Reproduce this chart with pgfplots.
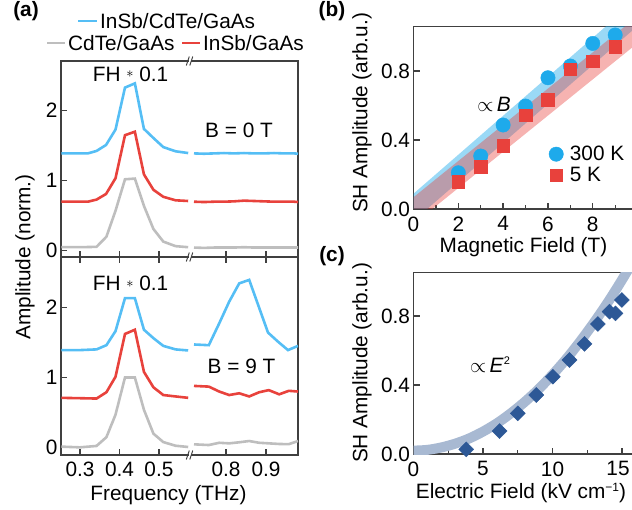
\documentclass[border=0pt]{standalone}
\usepackage{fontspec}
\setmainfont{Liberation Sans}
\usepackage{pgfplots}
\pgfplotsset{compat=1.18}

\definecolor{ablue}{RGB}{85,190,245}
\definecolor{ared}{RGB}{232,66,60}
\definecolor{agray}{RGB}{190,190,190}
\definecolor{bblue}{RGB}{30,170,235}
\definecolor{bred}{RGB}{232,65,60}
\definecolor{cdiam}{RGB}{45,88,150}
\definecolor{cband}{RGB}{168,185,210}
\definecolor{frame}{RGB}{64,64,64}

\newcommand\fs{\fontsize{20.8}{25}\selectfont}

\pgfplotsset{
  base/.style={
    scale only axis, anchor=south west, clip=true,
    axis line style={line width=1.5pt, draw=frame},
    tick style={line width=1.3pt, draw=frame},
    major tick length=6pt, minor tick length=4pt, tick align=inside,
    /pgf/number format/assume math mode=true,
    tick label style={font=\fs},
  },
  spec/.style={line width=2.6pt, no marks},
}

\begin{document}
\begin{tikzpicture}[x=1pt, y=1pt, font=\fs]
\useasboundingbox (0,0) rectangle (632,509);

% ---------- (a) B = 0 T ----------
\begin{axis}[base, at={(61pt,252pt)}, width=129pt, height=196pt,
  xmin=0.252, xmax=0.5786, ymin=-0.09, ymax=2.71,
  xtick={0.3,0.4,0.5}, xticklabels={}, xtick pos=left,
  ytick={0,1,2}, ytick pos=left]
\addplot[spec, agray] coordinates {(0.253,0.05) (0.30,0.05) (0.342,0.055) (0.367,0.20) (0.390,0.57) (0.414,1.02) (0.439,1.03) (0.462,0.64) (0.486,0.31) (0.511,0.13) (0.542,0.065) (0.574,0.05)};
\addplot[spec, ared] coordinates {(0.253,0.70) (0.32,0.70) (0.342,0.73) (0.366,0.81) (0.390,1.035) (0.414,1.65) (0.439,1.70) (0.462,1.09) (0.486,0.87) (0.511,0.77) (0.542,0.72) (0.574,0.71)};
\addplot[spec, ablue] coordinates {(0.253,1.39) (0.32,1.39) (0.342,1.425) (0.366,1.51) (0.390,1.73) (0.414,2.33) (0.439,2.39) (0.462,1.74) (0.486,1.61) (0.511,1.48) (0.542,1.42) (0.574,1.395)};
\end{axis}

\begin{axis}[base, at={(190pt,252pt)}, width=108pt, height=196pt,
  xmin=0.71, xmax=0.98, ymin=-0.09, ymax=2.71,
  xtick={0.8,0.9}, xticklabels={}, xtick pos=left, ytick=\empty]
\addplot[spec, agray] coordinates {(0.72,0.045) (0.745,0.04) (0.77,0.045) (0.795,0.045) (0.82,0.045) (0.845,0.05) (0.87,0.045) (0.895,0.045) (0.92,0.045) (0.945,0.045) (0.97,0.045) (0.98,0.045)};
\addplot[spec, ared] coordinates {(0.72,0.70) (0.745,0.695) (0.77,0.70) (0.795,0.70) (0.82,0.705) (0.845,0.715) (0.87,0.71) (0.895,0.705) (0.92,0.70) (0.945,0.70) (0.97,0.70) (0.98,0.695)};
\addplot[spec, ablue] coordinates {(0.72,1.39) (0.745,1.385) (0.77,1.39) (0.795,1.395) (0.82,1.39) (0.845,1.395) (0.87,1.39) (0.895,1.39) (0.92,1.395) (0.945,1.39) (0.97,1.39) (0.98,1.385)};
\end{axis}

% ---------- (a) B = 9 T ----------
\begin{axis}[base, at={(61pt,54pt)}, width=129pt, height=198pt,
  xmin=0.252, xmax=0.5786, ymin=-0.104, ymax=2.716,
  xtick={0.3,0.4,0.5}, xtick pos=both, xticklabel pos=left,
  xticklabel style={yshift=-3pt},
  ytick={0,1,2}, ytick pos=left]
\addplot[spec, agray] coordinates {(0.253,0.015) (0.30,0.005) (0.342,0.025) (0.367,0.15) (0.390,0.47) (0.414,1.0) (0.439,1.0) (0.462,0.54) (0.486,0.2) (0.511,0.08) (0.542,0.028) (0.574,0.01)};
\addplot[spec, ared] coordinates {(0.253,0.71) (0.30,0.705) (0.342,0.70) (0.367,0.79) (0.390,1.01) (0.414,1.62) (0.439,1.68) (0.462,1.08) (0.486,0.86) (0.511,0.75) (0.542,0.73) (0.574,0.71)};
\addplot[spec, ablue] coordinates {(0.253,1.39) (0.30,1.39) (0.342,1.40) (0.367,1.46) (0.390,1.66) (0.414,2.13) (0.439,2.13) (0.462,1.68) (0.486,1.56) (0.511,1.45) (0.542,1.40) (0.574,1.385)};
\end{axis}

\begin{axis}[base, at={(190pt,54pt)}, width=108pt, height=198pt,
  xmin=0.71, xmax=0.98, ymin=-0.104, ymax=2.716,
  xtick={0.8,0.9}, xtick pos=both, xticklabel pos=left,
  xticklabel style={yshift=-3pt}, ytick=\empty]
\addplot[spec, agray] coordinates {(0.72,0.048) (0.757,0.038) (0.783,0.07) (0.808,0.062) (0.833,0.077) (0.858,0.095) (0.883,0.07) (0.907,0.062) (0.933,0.053) (0.957,0.05) (0.98,0.095)};
\addplot[spec, ared] coordinates {(0.72,0.88) (0.757,0.87) (0.783,0.80) (0.808,0.75) (0.833,0.775) (0.858,0.73) (0.883,0.79) (0.907,0.82) (0.933,0.76) (0.957,0.81) (0.98,0.80)};
\addplot[spec, ablue] coordinates {(0.72,1.47) (0.757,1.46) (0.783,1.77) (0.808,2.08) (0.833,2.34) (0.858,2.39) (0.905,1.64) (0.93,1.51) (0.955,1.39) (0.98,1.45)};
\end{axis}

% axis break
\fill[white] (188.6,52) rectangle (191.4,450);
\foreach \y in {448,252,54} {
  \draw[line width=0.9pt, frame] (186.3,\y-4.5) -- (189.3,\y+4.5) (189.8,\y-4.5) -- (192.8,\y+4.5);
}

% legend and labels of (a)
\draw[ablue, line width=2.6pt] (78,488) -- (97,488);
\node[anchor=west, inner sep=0pt] at (100,488) {InSb/CdTe/GaAs};
\draw[agray, line width=2.6pt] (47,466) -- (65,466);
\node[anchor=west, inner sep=0pt] at (68,466) {CdTe/GaAs};
\draw[ared, line width=2.6pt] (182,466) -- (200,466);
\node[anchor=west, inner sep=0pt] at (203,466) {InSb/GaAs};
\node at (130.5,435) {FH \raisebox{3.6pt}{\fontsize{14}{14}\selectfont$\ast$} 0.1};
\node at (130.5,225.5) {FH \raisebox{3.6pt}{\fontsize{14}{14}\selectfont$\ast$} 0.1};
\node at (239,379) {B = 0 T};
\node at (241.5,143) {B = 9 T};
\node[rotate=90] at (25,252) {Amplitude (norm.)};
\node[anchor=base] at (168.5,9) {Frequency (THz)};
\node[font=\fs\bfseries] at (26,498) {(a)};

% ---------- (b) ----------
\begin{axis}[base, at={(413.5pt,300pt)}, width=220.5pt, height=182.3pt,
  xmin=0, xmax=9.84, ymin=0, ymax=1.057,
  xtick={0,2,4,6,8}, minor xtick={1,3,5,7,9}, xtick pos=left,
  xticklabel style={yshift=-4pt},
  ytick={0,0.4,0.8}, ytick pos=left,
  yticklabel style={/pgf/number format/fixed, /pgf/number format/fixed zerofill, /pgf/number format/precision=1},
  legend style={draw=none, fill=none, at={(0.6,0.365)}, anchor=north west, font=\fs, row sep=2pt,
    nodes={inner sep=1.5pt}, /tikz/every odd column/.append style={column sep=5pt}},
  legend cell align=left]
\addplot[only marks, mark=*, mark size=7.2pt, color=bblue] coordinates {(2,0.21) (3,0.307) (4,0.487) (5,0.597) (6,0.761) (7,0.829) (8,0.96) (9,1.009)};
\addlegendentry{300 K}
\addplot[only marks, mark=square*, mark size=6.3pt, color=bred] coordinates {(2,0.158) (3,0.245) (4,0.367) (5,0.545) (6,0.632) (7,0.81) (8,0.858) (9,0.94)};
\addlegendentry{5 K}
\addplot[forget plot, line width=20.5pt, color=bblue, opacity=0.45] coordinates {(-1,-0.103) (11,1.253)};
\addplot[forget plot, line width=21pt, color=bred, opacity=0.4] coordinates {(-1,-0.115) (11,1.145)};
\end{axis}
\node at (494,405) {$\propto$\,\textit{B}};
\node[rotate=90] at (362,396) {SH Amplitude (arb.u.)};
\node[anchor=base] at (523.5,256) {Magnetic Field (T)};
\node[font=\fs\bfseries] at (332,498) {(b)};

% ---------- (c) ----------
\begin{axis}[base, at={(413.5pt,55pt)}, width=220.5pt, height=181.3pt,
  xmin=0, xmax=15.86, ymin=0, ymax=1.051,
  xtick={0,5,10,15}, minor xtick={2.5,7.5,12.5}, xtick pos=left,
  xticklabels={0,5,10,\hspace*{-8pt}15},
  xticklabel style={yshift=-4pt},
  ytick={0,0.4,0.8}, ytick pos=left,
  yticklabel style={/pgf/number format/fixed, /pgf/number format/fixed zerofill, /pgf/number format/precision=1}]
\addplot[smooth, line width=10pt, color=cband] coordinates {(-1,0.024) (0,0.02) (1,0.024) (2,0.038) (3,0.06) (4,0.09) (5,0.13) (6,0.178) (7,0.236) (8,0.302) (9,0.376) (10,0.46) (11,0.552) (12,0.654) (13,0.764) (14,0.882) (15,1.01) (16,1.146)};
\addplot[only marks, mark=square*, mark options={rotate=45}, mark size=5.3pt, color=cdiam] coordinates {(3.79,0.027) (6.19,0.133) (7.50,0.236) (8.83,0.342) (10.02,0.448) (11.22,0.545) (12.30,0.638) (13.26,0.754) (14.10,0.825) (14.53,0.815) (14.99,0.893)};
\end{axis}
\node at (490,144) {$\propto$\,\textit{E}\raisebox{8pt}{\fontsize{11}{11}\selectfont 2}};
\node[rotate=90] at (362,146) {SH Amplitude (arb.u.)};
\node[anchor=base] at (521,10.7) {Electric Field (kV cm\raisebox{7pt}{\fontsize{12}{12}\selectfont −1})};
\node[font=\fs\bfseries] at (332,253) {(c)};
\end{tikzpicture}
\end{document}
